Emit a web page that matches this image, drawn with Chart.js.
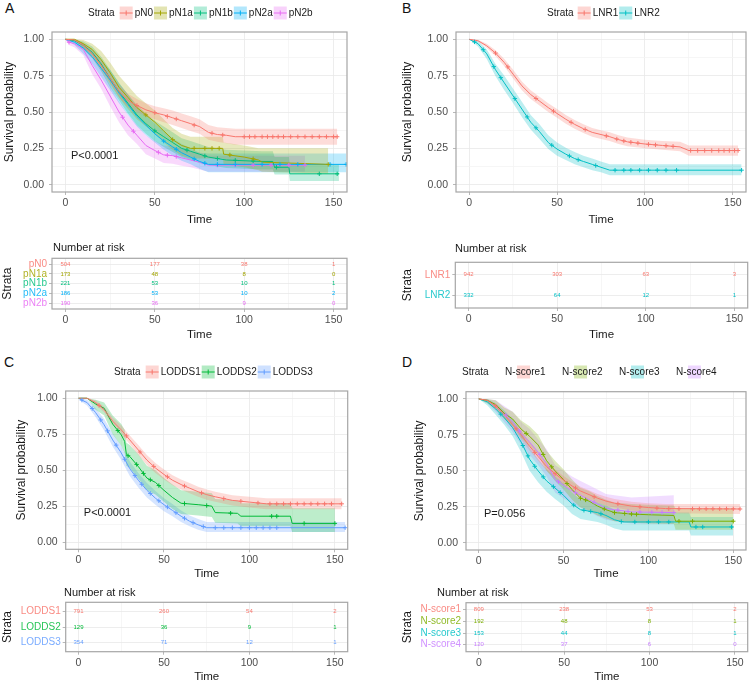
<!DOCTYPE html>
<html>
<head>
<meta charset="utf-8">
<script src="https://cdn.jsdelivr.net/npm/chart.js@4.4.1/dist/chart.umd.min.js"></script>
<style>
  html, body { margin: 0; padding: 0; background: #fff; }
  #page { position: relative; width: 751px; height: 684px; overflow: hidden; font-family: "Liberation Sans", Arial, sans-serif; }
  #page canvas { position: absolute; }
  .tag { position: absolute; font-size: 14px; line-height: 14px; color: #111; }
</style>
</head>
<body>
<div id="page">
  <div class="tag" style="left:5px;top:1px">A</div>
  <div class="tag" style="left:402px;top:1px">B</div>
  <div class="tag" style="left:4px;top:355px">C</div>
  <div class="tag" style="left:402px;top:355px">D</div>
</div>
<script>
/* ── Axis breaks ─────────────────────────────────────────────────────────── */
const timeGrid   = [0, 25, 50, 75, 100, 125, 150];
const timeLabels = [0, 50, 100, 150];
const survGrid   = [0, 0.125, 0.25, 0.375, 0.5, 0.625, 0.75, 0.875, 1];
const survLabels = [0, 0.25, 0.5, 0.75, 1];
const riskTimes  = [0, 50, 100, 150];

/* ── Panel A : pN stage ──────────────────────────────────────────────────── */
const strataA = ['pN0', 'pN1a', 'pN1b', 'pN2a', 'pN2b'];
const colorsA = ['#F8766D', '#A3A500', '#00BF7D', '#00B0F6', '#E76BF3'];

const pN0_t  = [0, 5, 10, 15, 20, 25, 30, 35, 40, 45, 50, 55, 60, 65, 70, 75, 80, 85, 90, 95, 152];
const pN0_s  = [1, 0.995, 0.96, 0.9, 0.82, 0.73, 0.64, 0.58, 0.545, 0.515, 0.495, 0.48, 0.46, 0.44, 0.42, 0.4, 0.36, 0.345, 0.34, 0.33, 0.33];
const pN0_lo = [1, 0.99, 0.94, 0.87, 0.785, 0.69, 0.6, 0.535, 0.5, 0.47, 0.45, 0.43, 0.41, 0.39, 0.37, 0.35, 0.31, 0.295, 0.285, 0.275, 0.275];
const pN0_hi = [1, 1, 0.975, 0.925, 0.855, 0.77, 0.685, 0.625, 0.59, 0.56, 0.54, 0.525, 0.51, 0.49, 0.47, 0.45, 0.41, 0.395, 0.39, 0.385, 0.385];
const pN0_cens = [[40, 0.545], [50, 0.495], [57, 0.47], [62, 0.452], [72, 0.41], [82, 0.354], [88, 0.342], [100, 0.33], [103, 0.33], [106, 0.33], [110, 0.33], [113, 0.33], [116, 0.33], [119, 0.33], [122, 0.33], [126, 0.33], [130, 0.33], [134, 0.33], [138, 0.33], [142, 0.33], [146, 0.33], [150, 0.33], [152, 0.33]];

const pN1a_t  = [0, 5, 10, 15, 20, 25, 30, 35, 40, 45, 50, 55, 60, 65, 70, 88, 88.5, 100, 108, 110, 147];
const pN1a_s  = [1, 1, 0.97, 0.93, 0.86, 0.77, 0.67, 0.6, 0.53, 0.48, 0.43, 0.37, 0.31, 0.27, 0.25, 0.25, 0.21, 0.19, 0.17, 0.155, 0.14];
const pN1a_lo = [1, 1, 0.94, 0.89, 0.8, 0.7, 0.6, 0.52, 0.45, 0.4, 0.35, 0.29, 0.24, 0.2, 0.18, 0.18, 0.14, 0.12, 0.1, 0.09, 0.075];
const pN1a_hi = [1, 1, 0.995, 0.97, 0.92, 0.84, 0.75, 0.68, 0.61, 0.56, 0.51, 0.45, 0.39, 0.35, 0.33, 0.33, 0.29, 0.27, 0.25, 0.25, 0.25];
const pN1a_cens = [[45, 0.48], [60, 0.31], [72, 0.25], [78, 0.25], [82, 0.25], [86, 0.25], [92, 0.205], [105, 0.178], [147, 0.14]];

const pN1b_t  = [0, 5, 10, 15, 20, 25, 30, 35, 40, 45, 50, 55, 60, 65, 70, 75, 80, 90, 110, 116, 117, 125, 125.5, 153];
const pN1b_s  = [1, 0.99, 0.96, 0.91, 0.83, 0.73, 0.64, 0.56, 0.48, 0.42, 0.37, 0.33, 0.29, 0.25, 0.23, 0.21, 0.19, 0.17, 0.16, 0.16, 0.12, 0.12, 0.075, 0.075];
const pN1b_lo = [1, 0.98, 0.93, 0.87, 0.78, 0.67, 0.58, 0.49, 0.41, 0.35, 0.3, 0.26, 0.225, 0.19, 0.17, 0.15, 0.135, 0.115, 0.105, 0.105, 0.07, 0.07, 0.025, 0.025];
const pN1b_hi = [1, 1, 0.985, 0.95, 0.88, 0.79, 0.7, 0.62, 0.55, 0.49, 0.44, 0.4, 0.36, 0.32, 0.3, 0.28, 0.26, 0.24, 0.23, 0.23, 0.19, 0.19, 0.14, 0.14];
const pN1b_cens = [[50, 0.37], [68, 0.238], [78, 0.198], [85, 0.18], [95, 0.168], [105, 0.163], [118, 0.12], [142, 0.075], [152, 0.075]];

const pN2a_t  = [0, 5, 10, 15, 20, 25, 30, 35, 40, 45, 50, 55, 60, 65, 70, 75, 80, 157];
const pN2a_s  = [1, 0.98, 0.94, 0.88, 0.8, 0.72, 0.63, 0.55, 0.47, 0.41, 0.35, 0.3, 0.26, 0.22, 0.19, 0.16, 0.14, 0.14];
const pN2a_lo = [1, 0.96, 0.9, 0.83, 0.74, 0.65, 0.56, 0.48, 0.4, 0.34, 0.29, 0.24, 0.2, 0.165, 0.14, 0.11, 0.085, 0.085];
const pN2a_hi = [1, 1, 0.97, 0.93, 0.86, 0.79, 0.7, 0.62, 0.54, 0.48, 0.42, 0.37, 0.32, 0.28, 0.25, 0.22, 0.215, 0.215];
const pN2a_cens = [[55, 0.3], [62, 0.244], [72, 0.178], [78, 0.148], [85, 0.14], [95, 0.14], [110, 0.14], [120, 0.14], [130, 0.14], [148, 0.14], [157, 0.14]];

const pN2b_t  = [0, 2, 5, 10, 15, 20, 25, 30, 35, 40, 45, 50, 55, 60, 65, 70, 75, 80, 134];
const pN2b_s  = [1, 0.98, 0.97, 0.93, 0.82, 0.72, 0.61, 0.5, 0.41, 0.34, 0.27, 0.235, 0.205, 0.2, 0.185, 0.17, 0.155, 0.135, 0.135];
const pN2b_lo = [1, 0.96, 0.945, 0.89, 0.76, 0.66, 0.54, 0.43, 0.34, 0.28, 0.21, 0.18, 0.15, 0.145, 0.13, 0.12, 0.105, 0.09, 0.09];
const pN2b_hi = [1, 1, 0.995, 0.965, 0.87, 0.79, 0.68, 0.57, 0.48, 0.41, 0.34, 0.3, 0.27, 0.265, 0.25, 0.235, 0.22, 0.2, 0.2];
const pN2b_cens = [[2, 0.98], [32, 0.464], [38, 0.368], [52, 0.223], [57, 0.203], [62, 0.194], [85, 0.135], [95, 0.135], [105, 0.135], [115, 0.135], [125, 0.135], [134, 0.135]];

const riskA = [[504, 177, 38, 1], [173, 48, 8, 0], [221, 53, 10, 1], [186, 53, 10, 2], [190, 36, 9, 0]];

/* ── Panel B : LNR ───────────────────────────────────────────────────────── */
const strataB = ['LNR1', 'LNR2'];
const colorsB = ['#F8766D', '#00BFC4'];

const LNR1_t  = [0, 5, 10, 15, 20, 25, 30, 35, 40, 45, 50, 55, 60, 65, 70, 75, 80, 85, 90, 100, 110, 120, 125, 153];
const LNR1_s  = [1, 0.99, 0.955, 0.905, 0.84, 0.76, 0.68, 0.62, 0.575, 0.53, 0.49, 0.45, 0.415, 0.385, 0.36, 0.345, 0.33, 0.31, 0.295, 0.28, 0.27, 0.26, 0.235, 0.235];
const LNR1_lo = [1, 0.985, 0.94, 0.885, 0.815, 0.73, 0.65, 0.59, 0.545, 0.5, 0.46, 0.42, 0.385, 0.355, 0.33, 0.315, 0.3, 0.28, 0.265, 0.25, 0.24, 0.23, 0.2, 0.2];
const LNR1_hi = [1, 0.997, 0.97, 0.925, 0.865, 0.79, 0.71, 0.65, 0.605, 0.56, 0.52, 0.48, 0.445, 0.415, 0.39, 0.375, 0.36, 0.34, 0.325, 0.31, 0.3, 0.295, 0.27, 0.27];
const LNR1_cens = [[15, 0.905], [22, 0.81], [38, 0.593], [48, 0.506], [58, 0.429], [66, 0.38], [78, 0.336], [84, 0.314], [88, 0.301], [92, 0.292], [96, 0.286], [102, 0.278], [106, 0.274], [112, 0.268], [116, 0.264], [126, 0.235], [130, 0.235], [134, 0.235], [138, 0.235], [142, 0.235], [145, 0.235], [148, 0.235], [151, 0.235], [153, 0.235]];

const LNR2_t  = [0, 5, 10, 15, 20, 25, 30, 35, 40, 45, 50, 55, 60, 65, 70, 75, 80, 155];
const LNR2_s  = [1, 0.97, 0.9, 0.79, 0.7, 0.61, 0.52, 0.43, 0.365, 0.29, 0.245, 0.21, 0.18, 0.16, 0.14, 0.12, 0.1, 0.1];
const LNR2_lo = [1, 0.95, 0.865, 0.745, 0.65, 0.56, 0.465, 0.38, 0.315, 0.245, 0.2, 0.17, 0.14, 0.12, 0.1, 0.085, 0.065, 0.065];
const LNR2_hi = [1, 0.99, 0.93, 0.83, 0.75, 0.66, 0.57, 0.48, 0.415, 0.34, 0.29, 0.255, 0.225, 0.2, 0.18, 0.16, 0.14, 0.14];
const LNR2_cens = [[3, 0.982], [8, 0.928], [14, 0.812], [18, 0.736], [26, 0.592], [33, 0.466], [38, 0.391], [47, 0.272], [57, 0.198], [62, 0.172], [72, 0.132], [83, 0.1], [88, 0.1], [92, 0.1], [97, 0.1], [102, 0.1], [107, 0.1], [112, 0.1], [118, 0.1], [155, 0.1]];

const riskB = [[942, 303, 63, 3], [332, 64, 12, 1]];

/* ── Panel C : LODDS ─────────────────────────────────────────────────────── */
const strataC = ['LODDS1', 'LODDS2', 'LODDS3'];
const colorsC = ['#F8766D', '#00BA38', '#619CFF'];

const LODDS1_t  = [0, 5, 10, 15, 20, 25, 30, 35, 40, 45, 50, 55, 60, 65, 70, 75, 80, 90, 100, 110, 154];
const LODDS1_s  = [1, 1, 0.97, 0.92, 0.84, 0.78, 0.71, 0.64, 0.57, 0.515, 0.47, 0.43, 0.4, 0.375, 0.35, 0.33, 0.315, 0.29, 0.278, 0.266, 0.266];
const LODDS1_lo = [1, 0.995, 0.955, 0.9, 0.815, 0.75, 0.68, 0.605, 0.535, 0.48, 0.435, 0.395, 0.365, 0.34, 0.315, 0.295, 0.28, 0.255, 0.24, 0.228, 0.228];
const LODDS1_hi = [1, 1, 0.985, 0.94, 0.865, 0.81, 0.74, 0.675, 0.605, 0.55, 0.505, 0.465, 0.435, 0.41, 0.385, 0.365, 0.35, 0.325, 0.315, 0.305, 0.305];
const LODDS1_cens = [[12, 0.95], [28, 0.738], [36, 0.626], [44, 0.526], [52, 0.454], [62, 0.39], [72, 0.342], [85, 0.302], [95, 0.284], [105, 0.272], [112, 0.266], [116, 0.266], [120, 0.266], [124, 0.266], [128, 0.266], [132, 0.266], [136, 0.266], [140, 0.266], [144, 0.266], [148, 0.266], [154, 0.266]];

const LODDS2_t  = [0, 5, 10, 15, 20, 25, 27, 28, 30, 35, 40, 45, 50, 55, 60, 70, 78, 80, 93, 95, 124, 125, 150];
const LODDS2_s  = [1, 1, 0.96, 0.93, 0.82, 0.745, 0.7, 0.61, 0.595, 0.525, 0.445, 0.415, 0.36, 0.31, 0.27, 0.26, 0.25, 0.205, 0.2, 0.18, 0.18, 0.13, 0.13];
const LODDS2_lo = [1, 1, 0.92, 0.88, 0.75, 0.67, 0.62, 0.53, 0.515, 0.44, 0.36, 0.33, 0.28, 0.23, 0.195, 0.185, 0.175, 0.135, 0.13, 0.11, 0.11, 0.07, 0.07];
const LODDS2_hi = [1, 1, 0.99, 0.97, 0.88, 0.82, 0.78, 0.69, 0.675, 0.61, 0.53, 0.5, 0.445, 0.4, 0.36, 0.35, 0.34, 0.3, 0.29, 0.27, 0.27, 0.235, 0.235];
const LODDS2_cens = [[23, 0.775], [29, 0.6], [34, 0.54], [38, 0.477], [42, 0.433], [47, 0.393], [62, 0.268], [75, 0.254], [89, 0.201], [113, 0.18], [116, 0.18], [132, 0.13], [150, 0.13]];

const LODDS3_t  = [0, 3, 5, 10, 15, 20, 25, 30, 35, 40, 45, 50, 55, 60, 65, 70, 75, 156];
const LODDS3_s  = [1, 0.98, 0.97, 0.9, 0.815, 0.71, 0.62, 0.51, 0.43, 0.36, 0.305, 0.26, 0.22, 0.18, 0.145, 0.12, 0.1, 0.1];
const LODDS3_lo = [1, 0.965, 0.95, 0.87, 0.775, 0.665, 0.57, 0.46, 0.38, 0.31, 0.26, 0.215, 0.18, 0.14, 0.11, 0.085, 0.07, 0.07];
const LODDS3_hi = [1, 0.995, 0.99, 0.93, 0.855, 0.755, 0.67, 0.56, 0.48, 0.41, 0.355, 0.305, 0.265, 0.22, 0.185, 0.16, 0.14, 0.14];
const LODDS3_cens = [[2, 0.987], [8, 0.928], [13, 0.849], [17, 0.773], [22, 0.674], [27, 0.576], [33, 0.462], [37, 0.402], [42, 0.338], [47, 0.287], [52, 0.244], [57, 0.204], [62, 0.166], [67, 0.135], [73, 0.108], [80, 0.1], [85, 0.1], [90, 0.1], [95, 0.1], [100, 0.1], [104, 0.1], [108, 0.1], [112, 0.1], [116, 0.1], [156, 0.1]];

const riskC = [[791, 260, 54, 2], [129, 36, 9, 1], [354, 71, 12, 1]];

/* ── Panel D : N-score ───────────────────────────────────────────────────── */
const strataD = ['N-score1', 'N-score2', 'N-score3', 'N-score4'];
const colorsD = ['#F8766D', '#7CAE00', '#00BFC4', '#C77CFF'];

const NS1_t  = [0, 5, 10, 15, 20, 25, 30, 35, 40, 45, 50, 55, 60, 65, 70, 75, 80, 90, 100, 110, 154];
const NS1_s  = [1, 0.99, 0.95, 0.89, 0.82, 0.75, 0.67, 0.6, 0.53, 0.48, 0.435, 0.395, 0.36, 0.335, 0.31, 0.29, 0.275, 0.255, 0.245, 0.238, 0.235];
const NS1_lo = [1, 0.983, 0.935, 0.87, 0.795, 0.72, 0.64, 0.57, 0.5, 0.45, 0.405, 0.365, 0.33, 0.305, 0.28, 0.26, 0.245, 0.225, 0.215, 0.205, 0.2];
const NS1_hi = [1, 0.997, 0.965, 0.91, 0.845, 0.78, 0.7, 0.63, 0.56, 0.51, 0.465, 0.425, 0.39, 0.365, 0.34, 0.32, 0.305, 0.285, 0.275, 0.27, 0.27];
const NS1_cens = [[10, 0.95], [22, 0.792], [33, 0.628], [45, 0.48], [57, 0.381], [68, 0.32], [82, 0.271], [95, 0.25], [105, 0.241], [112, 0.237], [118, 0.237], [126, 0.236], [130, 0.236], [134, 0.236], [138, 0.236], [142, 0.236], [146, 0.236], [150, 0.236], [154, 0.235]];

const NS2_t  = [0, 5, 10, 15, 20, 25, 30, 35, 40, 45, 50, 55, 60, 65, 70, 75, 80, 90, 100, 115, 116, 150];
const NS2_s  = [1, 0.99, 0.96, 0.9, 0.86, 0.79, 0.74, 0.68, 0.57, 0.5, 0.44, 0.37, 0.31, 0.29, 0.255, 0.23, 0.21, 0.2, 0.195, 0.19, 0.15, 0.15];
const NS2_lo = [1, 0.97, 0.93, 0.86, 0.81, 0.73, 0.67, 0.61, 0.5, 0.43, 0.37, 0.3, 0.245, 0.225, 0.19, 0.17, 0.15, 0.14, 0.135, 0.13, 0.09, 0.09];
const NS2_hi = [1, 1, 0.99, 0.94, 0.91, 0.85, 0.81, 0.75, 0.64, 0.57, 0.51, 0.44, 0.38, 0.36, 0.325, 0.3, 0.28, 0.27, 0.265, 0.26, 0.24, 0.24];
const NS2_cens = [[28, 0.76], [38, 0.614], [43, 0.528], [52, 0.412], [60, 0.31], [63, 0.298], [74, 0.235], [80, 0.21], [86, 0.204], [90, 0.2], [93, 0.198], [118, 0.15], [126, 0.15], [150, 0.15]];

const NS3_t  = [0, 5, 10, 15, 20, 25, 30, 35, 40, 45, 50, 55, 60, 70, 75, 80, 85, 124, 125, 150];
const NS3_s  = [1, 0.98, 0.93, 0.87, 0.8, 0.7, 0.58, 0.5, 0.43, 0.38, 0.33, 0.27, 0.23, 0.21, 0.19, 0.16, 0.145, 0.145, 0.11, 0.11];
const NS3_lo = [1, 0.955, 0.89, 0.82, 0.74, 0.63, 0.5, 0.42, 0.355, 0.305, 0.26, 0.2, 0.165, 0.145, 0.125, 0.1, 0.085, 0.085, 0.05, 0.05];
const NS3_hi = [1, 1, 0.97, 0.92, 0.86, 0.77, 0.66, 0.58, 0.51, 0.46, 0.41, 0.35, 0.3, 0.28, 0.26, 0.23, 0.21, 0.21, 0.18, 0.18];
const NS3_cens = [[13, 0.894], [26, 0.676], [29, 0.604], [33, 0.532], [38, 0.458], [44, 0.39], [48, 0.35], [56, 0.262], [62, 0.226], [66, 0.218], [72, 0.202], [84, 0.148], [92, 0.145], [100, 0.145], [106, 0.145], [112, 0.145], [128, 0.11], [132, 0.11], [149, 0.11]];

const NS4_t  = [0, 5, 10, 15, 20, 25, 30, 35, 40, 45, 50, 55, 60, 65, 70, 75, 80, 90, 115];
const NS4_s  = [1, 0.99, 0.95, 0.9, 0.84, 0.76, 0.7, 0.63, 0.55, 0.44, 0.4, 0.36, 0.33, 0.3, 0.27, 0.24, 0.23, 0.215, 0.21];
const NS4_lo = [1, 0.97, 0.91, 0.84, 0.77, 0.68, 0.61, 0.54, 0.46, 0.35, 0.31, 0.27, 0.245, 0.215, 0.185, 0.16, 0.15, 0.135, 0.13];
const NS4_hi = [1, 1, 0.99, 0.95, 0.91, 0.84, 0.79, 0.72, 0.65, 0.54, 0.5, 0.46, 0.43, 0.4, 0.37, 0.34, 0.33, 0.315, 0.33];
const NS4_cens = [[16, 0.888], [24, 0.776], [36, 0.614], [47, 0.424], [57, 0.348], [68, 0.282], [82, 0.227], [88, 0.218], [95, 0.214], [102, 0.212], [108, 0.211], [115, 0.21]];

const riskD = [[809, 238, 53, 2], [192, 48, 8, 1], [153, 44, 8, 1], [120, 37, 6, 0]];

/* ── Styling ─────────────────────────────────────────────────────────────── */
const FONT = '"Liberation Sans", Arial, sans-serif';
const INK = '#1a1a1a';
const TICK_INK = '#4d4d4d';
const FRAME = '#a6a6a6';
const GRID = '#e9e9e9';
const GRID_MINOR = '#f4f4f4';
const T_MIN = -7.5, T_MAX = 157.5;
const PVAL_AT = [3.1, 0.2];

function rgba(hex, a) {
  const n = parseInt(hex.slice(1), 16);
  return `rgba(${n >> 16},${(n >> 8) & 255},${n & 255},${a})`;
}

function addCanvas(g) {
  const c = document.createElement('canvas');
  c.width = g.w; c.height = g.h;
  c.style.left = g.x + 'px'; c.style.top = g.y + 'px';
  c.style.width = g.w + 'px'; c.style.height = g.h + 'px';
  document.getElementById('page').appendChild(c);
  return c;
}

// x axis shared by survival plots and risk tables
function timeAxis(g) {
  const h = g.y + g.h - g.area.b;
  return {
    type: 'linear', bounds: 'data', min: T_MIN, max: T_MAX,
    afterBuildTicks: s => { s.ticks = timeGrid.map(v => ({ value: v })); },
    afterFit: s => { s.height = h; },
    ticks: {
      autoSkip: false, maxRotation: 0, padding: 2, color: TICK_INK,
      font: { family: FONT, size: 10.5 },
      callback: v => timeLabels.includes(v) ? String(v) : ''
    },
    grid: {
      color: c => timeLabels.includes(c.tick.value) ? GRID : GRID_MINOR,
      lineWidth: 0.8, tickLength: 3,
      tickColor: c => timeLabels.includes(c.tick.value) ? FRAME : 'rgba(0,0,0,0)'
    },
    border: { display: false },
    title: {
      display: true, text: 'Time', color: INK, font: { family: FONT, size: 11.5 },
      padding: { top: 0, bottom: Math.max(0, g.y + g.h - g.xTitleY - 11.5 * 0.6) }
    }
  };
}

function leftTitle(text, g) {
  return {
    display: true, text, color: INK, font: { family: FONT, size: 12 },
    padding: { top: Math.max(0, g.yTitleX - g.x - 12 * 0.6), bottom: 0 }
  };
}

// ── Panel furniture: frame, p-value, legend, risk numbers, caption ──────────
function drawLegend(ctx, L, ox, oy) {
  const y = L.y - oy;
  let x = L.x - ox;
  ctx.font = `10px ${FONT}`;
  ctx.textBaseline = 'middle'; ctx.textAlign = 'left';
  ctx.fillStyle = INK;
  ctx.fillText('Strata', x, y);
  x += ctx.measureText('Strata').width + L.gap;
  L.names.forEach((name, i) => {
    const col = L.colors[i];
    const w = ctx.measureText(name).width;
    const kx = L.overlay ? x + 12 : x;
    ctx.fillStyle = rgba(col, 0.3);
    ctx.fillRect(kx, y - 6.5, 13, 13);
    if (!L.overlay) {
      ctx.strokeStyle = col; ctx.lineWidth = 1;
      ctx.beginPath();
      ctx.moveTo(kx, y); ctx.lineTo(kx + 13, y);
      ctx.moveTo(kx + 6.5, y - 2.5); ctx.lineTo(kx + 6.5, y + 2.5);
      ctx.stroke();
    }
    ctx.fillStyle = INK;
    ctx.fillText(name, L.overlay ? x : x + 15, y);
    x += L.overlay ? w + L.itemGap : 15 + w + 1;
  });
}

function decor(g, cfg) {
  return {
    id: 'decor',
    afterDatasetsDraw(chart) {
      const { ctx, chartArea: a, scales: { x, y } } = chart;
      ctx.save();
      if (cfg.pval) {
        ctx.font = `11px ${FONT}`; ctx.fillStyle = INK;
        ctx.textAlign = 'left'; ctx.textBaseline = 'middle';
        ctx.fillText(cfg.pval, x.getPixelForValue(PVAL_AT[0]), y.getPixelForValue(PVAL_AT[1]));
      }
      if (cfg.risk) {
        ctx.font = `6px ${FONT}`; ctx.textAlign = 'center'; ctx.textBaseline = 'middle';
        cfg.risk.counts.forEach((row, i) => {
          ctx.fillStyle = cfg.risk.colors[i];
          row.forEach((n, j) => ctx.fillText(String(n), x.getPixelForValue(riskTimes[j]), y.getPixelForValue(i)));
        });
      }
      ctx.strokeStyle = FRAME; ctx.lineWidth = 1.2;
      ctx.strokeRect(a.left, a.top, a.width, a.height);
      if (cfg.legend) drawLegend(ctx, cfg.legend, g.x, g.y);
      if (cfg.caption) {
        ctx.font = `11px ${FONT}`; ctx.fillStyle = INK;
        ctx.textAlign = 'left'; ctx.textBaseline = 'middle';
        ctx.fillText('Number at risk', cfg.caption[0] - g.x, cfg.caption[1] - g.y);
      }
      ctx.restore();
    }
  };
}

function baseOptions(g) {
  return {
    responsive: false, animation: false, events: [], devicePixelRatio: 1,
    layout: { padding: { left: 0, top: g.area.t - g.y, right: g.x + g.w - g.area.r, bottom: 0 } },
    plugins: { legend: { display: false }, tooltip: { enabled: false } }
  };
}

// ── Kaplan–Meier panel ──────────────────────────────────────────────────────
const pts = (t, v) => t.map((x, i) => ({ x, y: v[i] }));

function kmChart(g, series, legend, pval) {
  const datasets = [];
  series.forEach(s => {
    datasets.push({ data: pts(s.t, s.hi), borderWidth: 0, pointRadius: 0, fill: '+1', backgroundColor: rgba(s.color, 0.26), order: 3 });
    datasets.push({ data: pts(s.t, s.lo), borderWidth: 0, pointRadius: 0, fill: false, order: 3 });
  });
  series.forEach(s => {
    datasets.push({ data: pts(s.t, s.s), borderColor: s.color, borderWidth: 1, pointRadius: 0, fill: false, tension: 0, order: 1 });
    datasets.push({
      data: s.cens.map(([x, y]) => ({ x, y })), showLine: false, pointStyle: 'cross',
      pointRadius: 2.2, pointBorderWidth: 1, borderColor: s.color, order: 0
    });
  });
  const opts = baseOptions(g);
  opts.scales = {
    x: timeAxis(g),
    y: {
      type: 'linear', bounds: 'data', min: -0.05, max: 1.05,
      afterBuildTicks: s => { s.ticks = survGrid.map(v => ({ value: v })); },
      afterFit: s => { s.width = g.area.l - g.x; },
      ticks: {
        autoSkip: false, padding: 5, color: TICK_INK, font: { family: FONT, size: 10.5 },
        callback: v => survLabels.includes(v) ? v.toFixed(2) : ''
      },
      grid: {
        color: c => survLabels.includes(c.tick.value) ? GRID : GRID_MINOR,
        lineWidth: 0.8, tickLength: 3,
        tickColor: c => survLabels.includes(c.tick.value) ? FRAME : 'rgba(0,0,0,0)'
      },
      border: { display: false },
      title: leftTitle('Survival probability', g)
    }
  };
  new Chart(addCanvas(g), {
    type: 'line', data: { datasets }, options: opts,
    plugins: [decor(g, { legend, pval })]
  });
}

// ── Number-at-risk table ────────────────────────────────────────────────────
function riskChart(g, names, colors, counts, caption) {
  const opts = baseOptions(g);
  opts.scales = {
    x: timeAxis(g),
    y: {
      type: 'linear', bounds: 'data', reverse: true, min: -0.6, max: names.length - 0.4,
      afterBuildTicks: s => { s.ticks = names.map((n, i) => ({ value: i })); },
      afterFit: s => { s.width = g.area.l - g.x; },
      ticks: {
        autoSkip: false, padding: 2, font: { family: FONT, size: 10 },
        color: c => rgba(colors[c.index], 0.85), callback: v => names[v]
      },
      grid: { color: GRID, lineWidth: 0.8, tickLength: 3, tickColor: FRAME },
      border: { display: false },
      title: leftTitle('Strata', g)
    }
  };
  new Chart(addCanvas(g), {
    type: 'scatter', data: { datasets: [] }, options: opts,
    plugins: [decor(g, { risk: { counts, colors }, caption })]
  });
}

function build(names, colors, arrays) {
  return names.map((name, i) => ({ name, color: colors[i], ...arrays[i] }));
}

// ── Panels ──────────────────────────────────────────────────────────────────
kmChart(
  { x: 0, y: 0, w: 376, h: 230, area: { l: 52, t: 32, r: 347, b: 192 }, yTitleX: 10, xTitleY: 220 },
  build(strataA, colorsA, [
    { t: pN0_t, s: pN0_s, lo: pN0_lo, hi: pN0_hi, cens: pN0_cens },
    { t: pN1a_t, s: pN1a_s, lo: pN1a_lo, hi: pN1a_hi, cens: pN1a_cens },
    { t: pN1b_t, s: pN1b_s, lo: pN1b_lo, hi: pN1b_hi, cens: pN1b_cens },
    { t: pN2a_t, s: pN2a_s, lo: pN2a_lo, hi: pN2a_hi, cens: pN2a_cens },
    { t: pN2b_t, s: pN2b_s, lo: pN2b_lo, hi: pN2b_hi, cens: pN2b_cens }
  ]),
  { x: 88, y: 13, gap: 5, names: strataA, colors: colorsA },
  'P<0.0001'
);

kmChart(
  { x: 378, y: 0, w: 373, h: 230, area: { l: 456, t: 32, r: 746.7, b: 192 }, yTitleX: 408, xTitleY: 220 },
  build(strataB, colorsB, [
    { t: LNR1_t, s: LNR1_s, lo: LNR1_lo, hi: LNR1_hi, cens: LNR1_cens },
    { t: LNR2_t, s: LNR2_s, lo: LNR2_lo, hi: LNR2_hi, cens: LNR2_cens }
  ]),
  { x: 547, y: 13, gap: 4, names: strataB, colors: colorsB },
  null
);

riskChart({ x: 0, y: 232, w: 376, h: 112, area: { l: 52, t: 258.3, r: 347, b: 309 }, yTitleX: 7, xTitleY: 335 },
  strataA, colorsA, riskA, [53, 248]);

riskChart({ x: 378, y: 232, w: 373, h: 112, area: { l: 455.3, t: 262.3, r: 747.7, b: 308 }, yTitleX: 408, xTitleY: 335 },
  strataB, colorsB, riskB, [455, 249]);

kmChart(
  { x: 0, y: 345, w: 376, h: 240, area: { l: 65.7, t: 391, r: 347.7, b: 549.3 }, yTitleX: 22, xTitleY: 574 },
  build(strataC, colorsC, [
    { t: LODDS1_t, s: LODDS1_s, lo: LODDS1_lo, hi: LODDS1_hi, cens: LODDS1_cens },
    { t: LODDS2_t, s: LODDS2_s, lo: LODDS2_lo, hi: LODDS2_hi, cens: LODDS2_cens },
    { t: LODDS3_t, s: LODDS3_s, lo: LODDS3_lo, hi: LODDS3_hi, cens: LODDS3_cens }
  ]),
  { x: 114, y: 372, gap: 5, names: strataC, colors: colorsC },
  'P<0.0001'
);

kmChart(
  { x: 378, y: 345, w: 373, h: 240, area: { l: 466, t: 391.7, r: 747.7, b: 550 }, yTitleX: 420, xTitleY: 574 },
  build(strataD, colorsD, [
    { t: NS1_t, s: NS1_s, lo: NS1_lo, hi: NS1_hi, cens: NS1_cens },
    { t: NS2_t, s: NS2_s, lo: NS2_lo, hi: NS2_hi, cens: NS2_cens },
    { t: NS3_t, s: NS3_s, lo: NS3_lo, hi: NS3_hi, cens: NS3_cens },
    { t: NS4_t, s: NS4_s, lo: NS4_lo, hi: NS4_hi, cens: NS4_cens }
  ]),
  { x: 462, y: 372, gap: 16.4, itemGap: 16.4, overlay: true, names: strataD, colors: colorsD },
  'P=0.056'
);

riskChart({ x: 0, y: 580, w: 376, h: 104, area: { l: 65.7, t: 602.3, r: 347.7, b: 651.7 }, yTitleX: 7, xTitleY: 678 },
  strataC, colorsC, riskC, [64, 593]);

riskChart({ x: 378, y: 580, w: 373, h: 104, area: { l: 466, t: 602.7, r: 747.7, b: 651.7 }, yTitleX: 408, xTitleY: 678 },
  strataD, colorsD, riskD, [437, 593]);
</script>
</body>
</html>
